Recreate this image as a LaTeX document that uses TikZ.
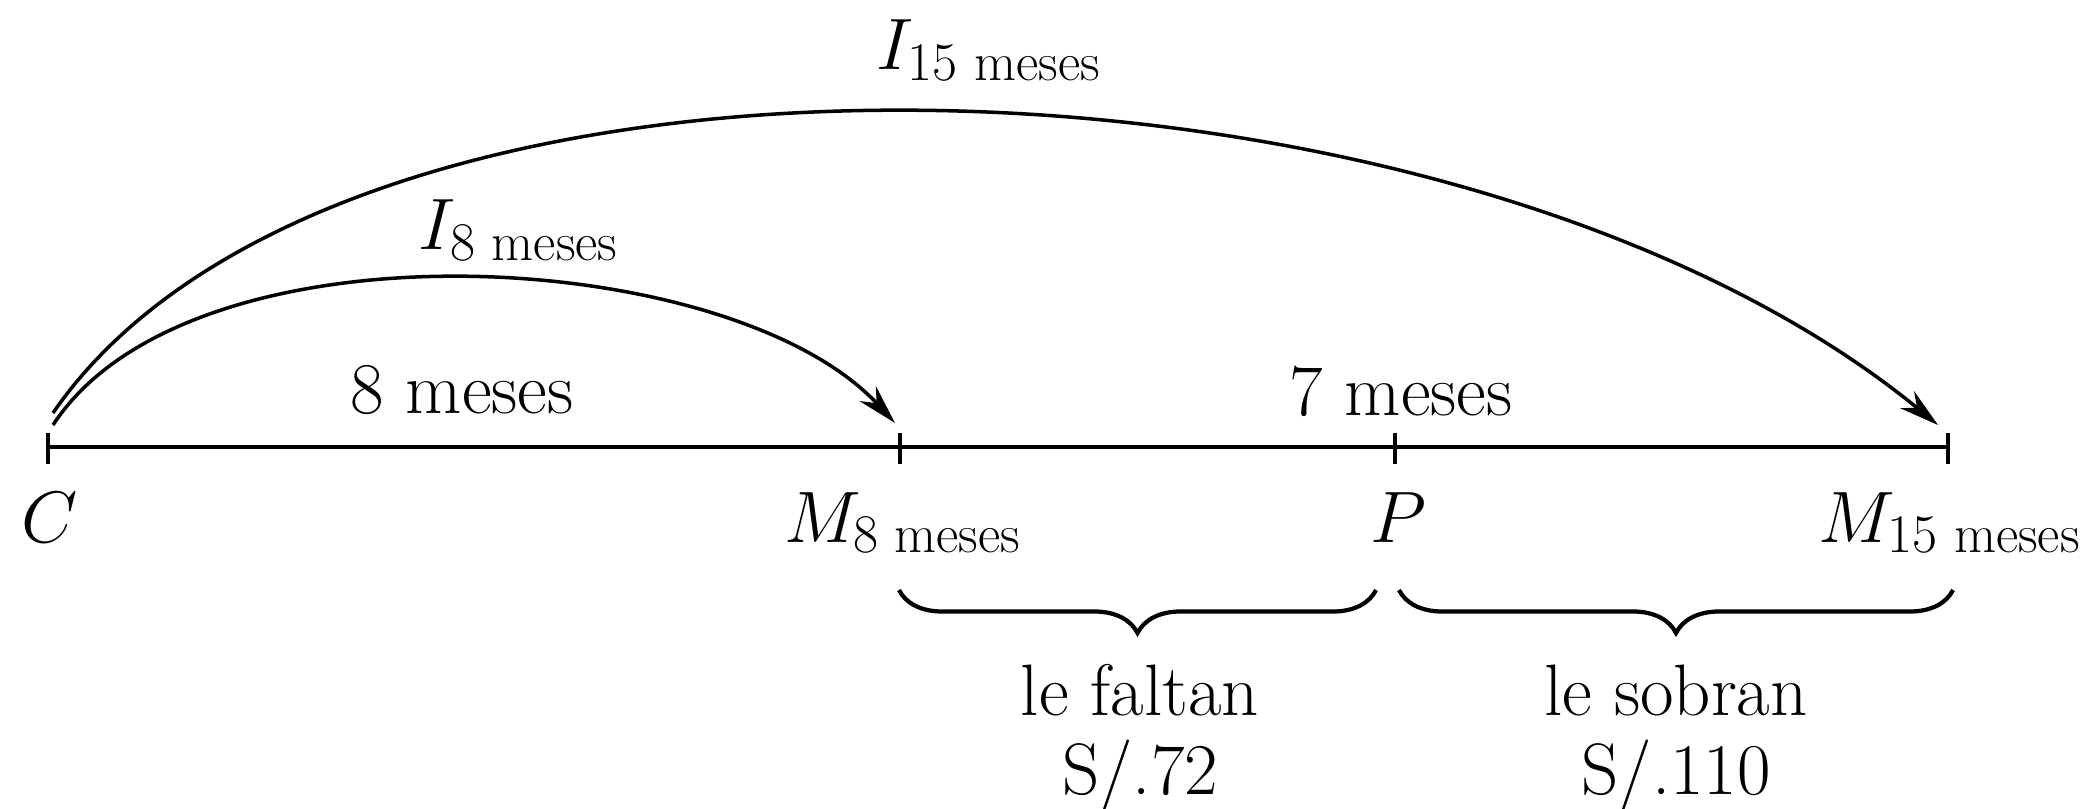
\documentclass[tikz,border=0pt]{standalone}
\usepackage{amsmath, amssymb}
\DeclareMathSizes{20.74}{20.74}{15.5}{12}
\usetikzlibrary{arrows.meta, decorations.pathreplacing}

\begin{document}
\begin{tikzpicture}[every node/.style={inner sep=0pt, font=\fontsize{20.74}{24}\selectfont},
  eje/.style={line width=1.3pt},
  marca/.style={line width=0.9pt},
  arco/.style={line width=1pt, -{Stealth[length=4mm, width=2.2mm]}},
  llave/.style={line width=1.2pt, decorate, decoration={brace, mirror, amplitude=4.3mm}}]
  \useasboundingbox (0,0) rectangle (20.94,8.08);
  \coordinate (c) at (0.48,3.61);
  \coordinate (m8) at (9.00,3.61);
  \coordinate (p) at (13.95,3.61);
  \coordinate (m15) at (19.48,3.61);
  \draw[eje] (c) -- (m15);
  \foreach \q in {c, m8, p, m15}
    \draw[marca] ([yshift=-1.7mm]\q) -- ([yshift=1.4mm]\q);
  \node[anchor=base] (lc) at (0.50,2.66) {$C$};
  \node[anchor=base] (lm8) at (9.03,2.66) {$M_{\text{8 meses}}$};
  \node[anchor=base] (lp) at (13.98,2.66) {$P$};
  \node[anchor=base] (lm15) at (19.50,2.66) {$M_{\text{15 meses}}$};
  \node[anchor=base] (t8) at (4.62,3.95) {8 meses};
  \node[anchor=base] (t7) at (14.01,3.93) {7 meses};
  \coordinate (ca) at (0.53,3.83);
  \coordinate (cb) at (0.53,3.95);
  \coordinate (m8a) at (8.95,3.85);
  \coordinate (m15a) at (19.38,3.83);
  \draw[arco] (ca) .. controls (1.90,5.93) and (7.30,5.63) .. (m8a);
  \draw[arco] (cb) .. controls (3.40,8.13) and (14.50,7.83) .. (m15a);
  \node[anchor=base] (i8) at (5.19,5.58) {$I_{\text{8 meses}}$};
  \node[anchor=base] (i15) at (9.89,7.38) {$I_{\text{15 meses}}$};
  \coordinate (f1) at (8.99,2.18);
  \coordinate (f2) at (13.76,2.18);
  \coordinate (s1) at (13.99,2.18);
  \coordinate (s2) at (19.53,2.18);
  \draw[llave] (f1) -- (f2);
  \draw[llave] (s1) -- (s2);
  \node[anchor=base] (falta) at (11.40,0.93) {le faltan};
  \node[anchor=base] (faltav) at (11.40,0.14) {S/.72};
  \node[anchor=base] (sobra) at (16.76,0.93) {le sobran};
  \node[anchor=base] (sobrav) at (16.76,0.14) {S/.110};
\end{tikzpicture}
\end{document}
